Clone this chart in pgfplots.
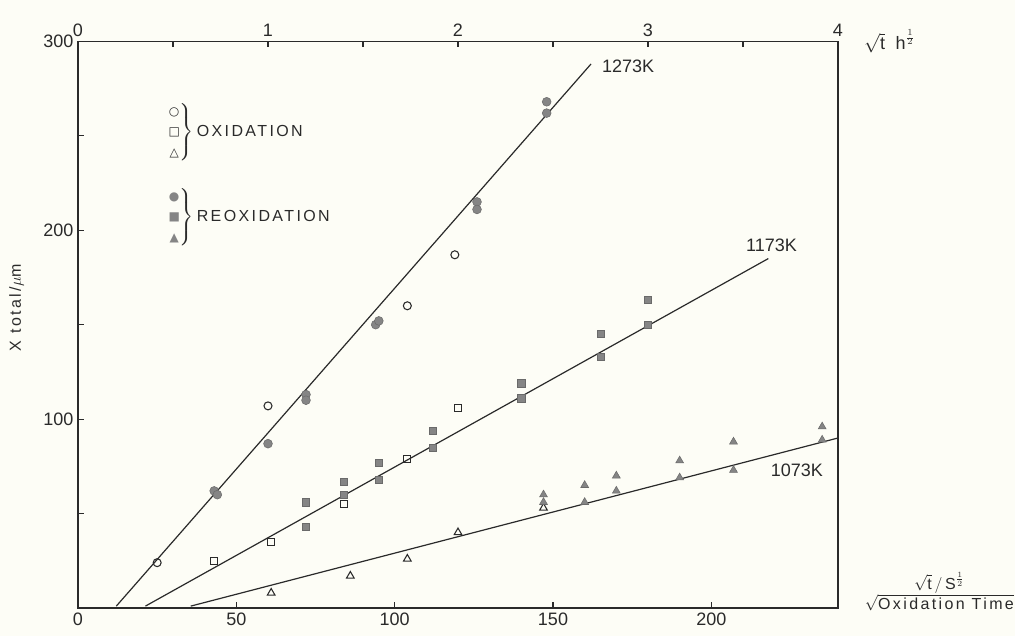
\documentclass[border=0pt]{standalone}
\usepackage{fontspec}
\setmainfont{Liberation Sans}
\newfontfamily\sym{DejaVu Sans}
\newfontfamily\spaced[LetterSpace=15]{Liberation Sans}
\usepackage{amsmath}
\usepackage{pgfplots}
\pgfplotsset{compat=1.18}

\definecolor{ink}{HTML}{2A2A2A}
\definecolor{mk}{HTML}{858585}
\definecolor{bg}{HTML}{FDFDF6}

\newcommand{\fs}{\fontsize{12}{14.4}\selectfont}
\newcommand{\ft}{\fontsize{13.5}{16}\selectfont}

\pgfplotsset{frame/.style={
  at={(0,0)}, anchor=south west, scale only axis,
  width=570pt, height=425pt,
  tick align=inside,
  major tick length=4.5pt, minor tick length=4.5pt,
  axis line style={ink, line width=1pt},
  tick style={ink, line width=0.8pt},
  tick label style={font=\ft, text=ink},
  /pgf/number format/assume math mode=true,
}}

\begin{document}
\begin{tikzpicture}
\path[use as bounding box, fill=bg] (-58.5pt,-21pt) rectangle (702.75pt,456pt);

% top scale: sqrt(t) in h^(1/2)
\begin{axis}[frame,
  xmin=0, xmax=4, ymin=0, ymax=1,
  axis x line*=top, axis y line=none,
  xtick={0,1,2,3,4}, minor xtick={0.5,1.5,2.5,3.5},
]
\end{axis}

\begin{axis}[frame,
  xmin=0, xmax=240, ymin=0, ymax=300,
  xtick={0,50,100,150,200}, ytick={100,200,300},
  minor ytick={50,150,250},
  xtick pos=bottom, ytick pos=left,
  clip=false,
]
% fitted lines
\addplot[ink, line width=0.9pt] coordinates {(12.1,1) (162,288)};
\addplot[ink, line width=0.9pt] coordinates {(21.3,1) (218,185)};
\addplot[ink, line width=0.9pt] coordinates {(35.6,1) (240,90)};

% 1273K
\addplot[only marks, mark=o, mark size=3pt, ink, mark options={line width=0.8pt}]
  coordinates {(25,24) (60,107) (104,160) (119,187)};
\addplot[only marks, mark=*, mark size=3.3pt, mark options={fill=mk, draw=mk!80!black}]
  coordinates {(43,62) (44,60) (60,87) (72,113) (72,110) (94,150) (95,152)
               (126,215) (126,211) (148,268) (148,262)};
% 1173K
\addplot[only marks, mark=square, mark size=2.6pt, ink, mark options={line width=0.8pt}]
  coordinates {(43,25) (61,35) (84,55) (104,79) (120,106)};
\addplot[only marks, mark=square*, mark size=2.7pt, mark options={fill=mk, draw=mk!80!black}]
  coordinates {(72,56) (72,43) (84,67) (84,60) (95,77) (95,68) (112,94) (112,85)
               (140,119) (140,111) (165,145) (165,133) (180,163) (180,150)};
% 1073K
\addplot[only marks, mark=triangle, mark size=3.3pt, ink, mark options={line width=0.8pt}]
  coordinates {(61,8) (86,17) (104,26) (120,40) (147,53)};
\addplot[only marks, mark=triangle*, mark size=3.4pt, mark options={fill=mk, draw=mk!80!black}]
  coordinates {(147,60) (147,56) (160,65) (160,56) (170,70) (170,62) (190,78) (190,69)
               (207,88) (207,73) (235,96) (235,89)};

\node[anchor=west, font=\ft, text=ink] at (axis cs:164,287) {1273K};
\node[anchor=south, font=\ft, text=ink] at (axis cs:219,186) {1173K};
\node[font=\ft, text=ink] at (axis cs:227,73) {1073K};

% key
\node[anchor=west, font=\fs, text=ink, inner sep=0pt] at (axis cs:28,252)
  {$\left.\begin{array}{@{}c@{}}\text{\sym\small ○}\\[1pt]\text{\sym\small □}\\[1pt]\text{\sym\small △}\end{array}\right\}$\,{\spaced OXIDATION}};
\node[anchor=west, font=\fs, text=ink, inner sep=0pt] at (axis cs:28,207)
  {$\left.\begin{array}{@{}c@{}}\text{\sym\small\color{mk}●}\\[1pt]\text{\sym\small\color{mk}■}\\[1pt]\text{\sym\small\color{mk}▲}\end{array}\right\}$\,{\spaced REOXIDATION}};

% axis titles
\node[rotate=90, font=\fs, text=ink] at ([xshift=-46pt]rel axis cs:0,0.53) {\spaced X total/$\mu$m};
\node[anchor=west, font=\ft, text=ink] at ([xshift=16pt]rel axis cs:1,1)
  {$\sqrt{\text{t}}\;\;\text{h}^{\frac{1}{2}}$};
\node[font=\fs, text=ink, align=center] at ([xshift=76pt, yshift=12pt]rel axis cs:1,0)
  {$\sqrt{\text{t}}\,/\,\text{S}^{\frac{1}{2}}$\\[1pt]$\sqrt{\text{\spaced Oxidation Time}}$};
\end{axis}
\end{tikzpicture}
\end{document}
